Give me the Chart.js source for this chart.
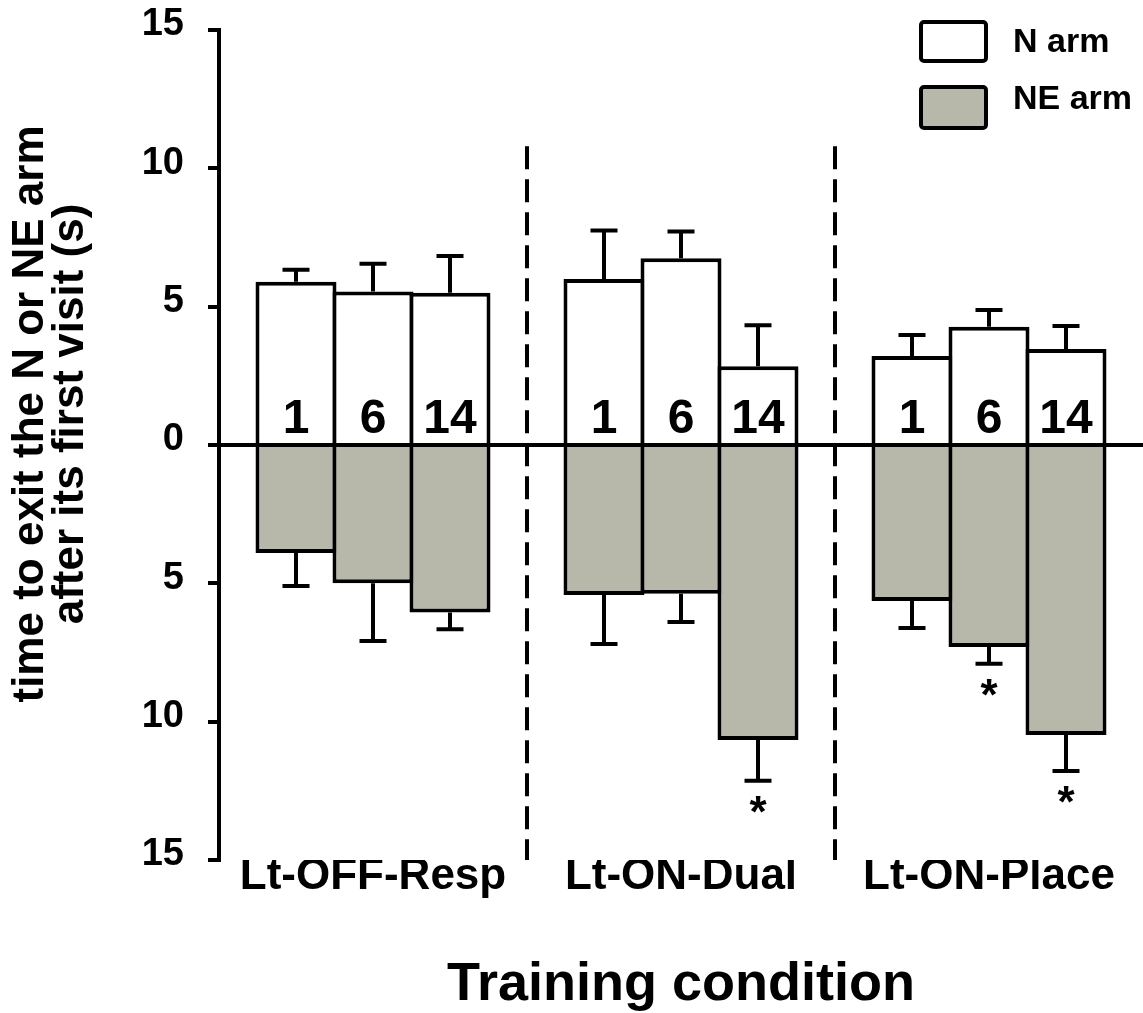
<!DOCTYPE html>
<html lang="en">
<head>
  <meta charset="UTF-8">
  <title>Time to exit the N or NE arm</title>
  <script src="https://cdn.jsdelivr.net/npm/chart.js"></script>
  <style>
    html, body { margin: 0; padding: 0; background: #fff; }
  </style>
</head>
<body>
  <canvas id="myChart" width="1143" height="1013"></canvas>

  <script>
    // training conditions (x groups) and test days inside each group
    const conditions = ['Lt-OFF-Resp', 'Lt-ON-Dual', 'Lt-ON-Place'];
    const days = [1, 6, 14];

    // mean time (s) and error, one value per condition x day, in reading order
    const nArm = [5.9, 5.55, 5.5, 6.0, 6.75, 2.85, 3.22, 4.27, 3.47];
    const nArmErr = [0.43, 1.0, 1.33, 1.75, 0.97, 1.48, 0.76, 0.61, 0.83];
    const neArm = [3.9, 5.0, 6.05, 5.42, 5.38, 10.66, 5.64, 7.3, 10.48];
    const neArmErr = [1.2, 2.08, 0.61, 1.77, 1.02, 1.48, 0.97, 0.61, 1.3];
    const neSignificant = [false, false, false, false, false, true, false, true, true];

    const yTicks = [-15, -10, -5, 0, 5, 10, 15];
    const yTitle = ['time to exit the N or NE arm', 'after its first visit (s)'];
    const legendLabels = ['N arm', 'NE arm'];
    const dividerTop = 10.8;

    const FONT = 'Arial, "Liberation Sans", sans-serif';
    const N_COLOR = '#ffffff';
    const NE_COLOR = '#b7b7aa';

    Chart.defaults.font.family = FONT;
    Chart.defaults.color = '#000';

    // one empty slot between condition groups
    const perGroup = days.length + 1;
    const slot = i => Math.floor(i / days.length) * perGroup + i % days.length;
    const groupCenter = g => g * perGroup + (days.length - 1) / 2;

    const barSet = (label, vals, sign, color) => ({
      type: 'bar',
      label: label,
      data: vals.map((v, i) => ({ x: slot(i), y: sign * v })),
      backgroundColor: color,
      borderColor: '#000',
      borderWidth: 4,
      borderSkipped: 'start',
      grouped: false,
      categoryPercentage: 1,
      barPercentage: 1.052
    });

    const dividerSets = conditions.slice(1).map((c, g) => ({
      type: 'line',
      label: 'divider' + g,
      data: [{ x: g * perGroup + days.length, y: dividerTop }, { x: g * perGroup + days.length, y: -15 }],
      borderColor: '#000',
      borderWidth: 4,
      borderDash: [23, 10],
      pointRadius: 0,
      fill: false
    }));

    const extras = {
      id: 'extras',
      afterDatasetsDraw(chart) {
        const ctx = chart.ctx;
        const y = chart.scales.y;
        const zero = y.getPixelForValue(0);
        ctx.save();
        ctx.strokeStyle = '#000';
        ctx.fillStyle = '#000';
        ctx.lineWidth = 4;

        const series = [[0, nArm, nArmErr, 1], [1, neArm, neArmErr, -1]];
        series.forEach(([di, vals, errs, sign]) => {
          chart.getDatasetMeta(di).data.forEach((bar, i) => {
            const end = y.getPixelForValue(sign * (vals[i] + errs[i]));
            ctx.beginPath();
            ctx.moveTo(bar.x, bar.y);
            ctx.lineTo(bar.x, end);
            ctx.moveTo(bar.x - 13.5, end);
            ctx.lineTo(bar.x + 13.5, end);
            ctx.stroke();

            if (sign < 0 && neSignificant[i]) {
              ctx.font = 'bold 44px ' + FONT;
              ctx.textAlign = 'center';
              ctx.textBaseline = 'top';
              ctx.fillText('*', bar.x, end + 12);
            }
            if (sign > 0) {
              ctx.font = 'bold 48px ' + FONT;
              ctx.textAlign = 'center';
              ctx.textBaseline = 'alphabetic';
              ctx.fillText(String(days[i % days.length]), bar.x, zero - 12);
            }
          });
        });
        ctx.restore();
      },
      afterDraw(chart) {
        const ctx = chart.ctx;
        ctx.save();
        ctx.fillStyle = '#000';

        // y axis title, two lines
        ctx.font = 'bold 44px ' + FONT;
        ctx.textAlign = 'center';
        ctx.textBaseline = 'middle';
        yTitle.forEach((line, k) => {
          ctx.save();
          ctx.translate(31 + k * 40, 414);
          ctx.rotate(-Math.PI / 2);
          ctx.fillText(line, 0, 0);
          ctx.restore();
        });

        // legend
        const boxes = [[921, 22, 65, 39], [921, 87, 65, 41]];
        const colors = [N_COLOR, NE_COLOR];
        const textY = [43, 100];
        ctx.lineWidth = 4;
        ctx.strokeStyle = '#000';
        ctx.font = 'bold 34px ' + FONT;
        ctx.textAlign = 'left';
        legendLabels.forEach((lab, k) => {
          const [bx, by, bw, bh] = boxes[k];
          ctx.fillStyle = colors[k];
          ctx.beginPath();
          ctx.roundRect(bx, by, bw, bh, 3);
          ctx.fill();
          ctx.stroke();
          ctx.fillStyle = '#000';
          ctx.fillText(lab, 1013, textY[k]);
        });
        ctx.restore();
      }
    };

    const ctx = document.getElementById('myChart').getContext('2d');
    const myChart = new Chart(ctx, {
      type: 'bar',
      data: {
        datasets: [
          barSet(legendLabels[0], nArm, 1, N_COLOR),
          barSet(legendLabels[1], neArm, -1, NE_COLOR),
          ...dividerSets
        ]
      },
      options: {
        responsive: false,
        animation: false,
        layout: { padding: { top: 30, right: 0, bottom: 0, left: 0 } },
        plugins: {
          legend: { display: false },
          tooltip: { enabled: false }
        },
        scales: {
          x: {
            type: 'linear',
            offset: false,
            min: -1,
            max: conditions.length * perGroup - 1,
            afterBuildTicks: s => {
              const t = [];
              for (let v = s.min; v <= s.max; v++) t.push({ value: v });
              s.ticks = t;
            },
            afterFit: s => { s.height = 153; s.paddingLeft = 0; s.paddingRight = 0; },
            ticks: {
              autoSkip: false,
              maxRotation: 0,
              padding: -10,
              font: { size: 44, weight: 'bold' },
              callback: v => {
                const g = conditions.findIndex((c, gi) => groupCenter(gi) === v);
                return g >= 0 ? conditions[g] : '';
              }
            },
            grid: { display: false, drawTicks: false },
            border: { display: false },
            title: {
              display: true,
              text: 'Training condition',
              font: { size: 54, weight: 'bold' },
              padding: { top: 0, bottom: -5 }
            }
          },
          y: {
            min: -15,
            max: 15,
            z: 1,
            afterBuildTicks: s => { s.ticks = yTicks.map(v => ({ value: v })); },
            afterFit: s => { s.width = 219; s.paddingTop = 0; s.paddingBottom = 0; },
            ticks: {
              padding: 24,
              labelOffset: -5,
              font: { size: 38, weight: 'bold' },
              callback: v => Math.abs(v)
            },
            grid: {
              color: c => (c.tick && c.tick.value === 0 ? '#000' : 'rgba(0,0,0,0)'),
              tickColor: '#000',
              lineWidth: 4,
              tickLength: 11
            },
            border: { display: true, color: '#000', width: 4 }
          }
        }
      },
      plugins: [extras]
    });
  </script>
</body>
</html>
